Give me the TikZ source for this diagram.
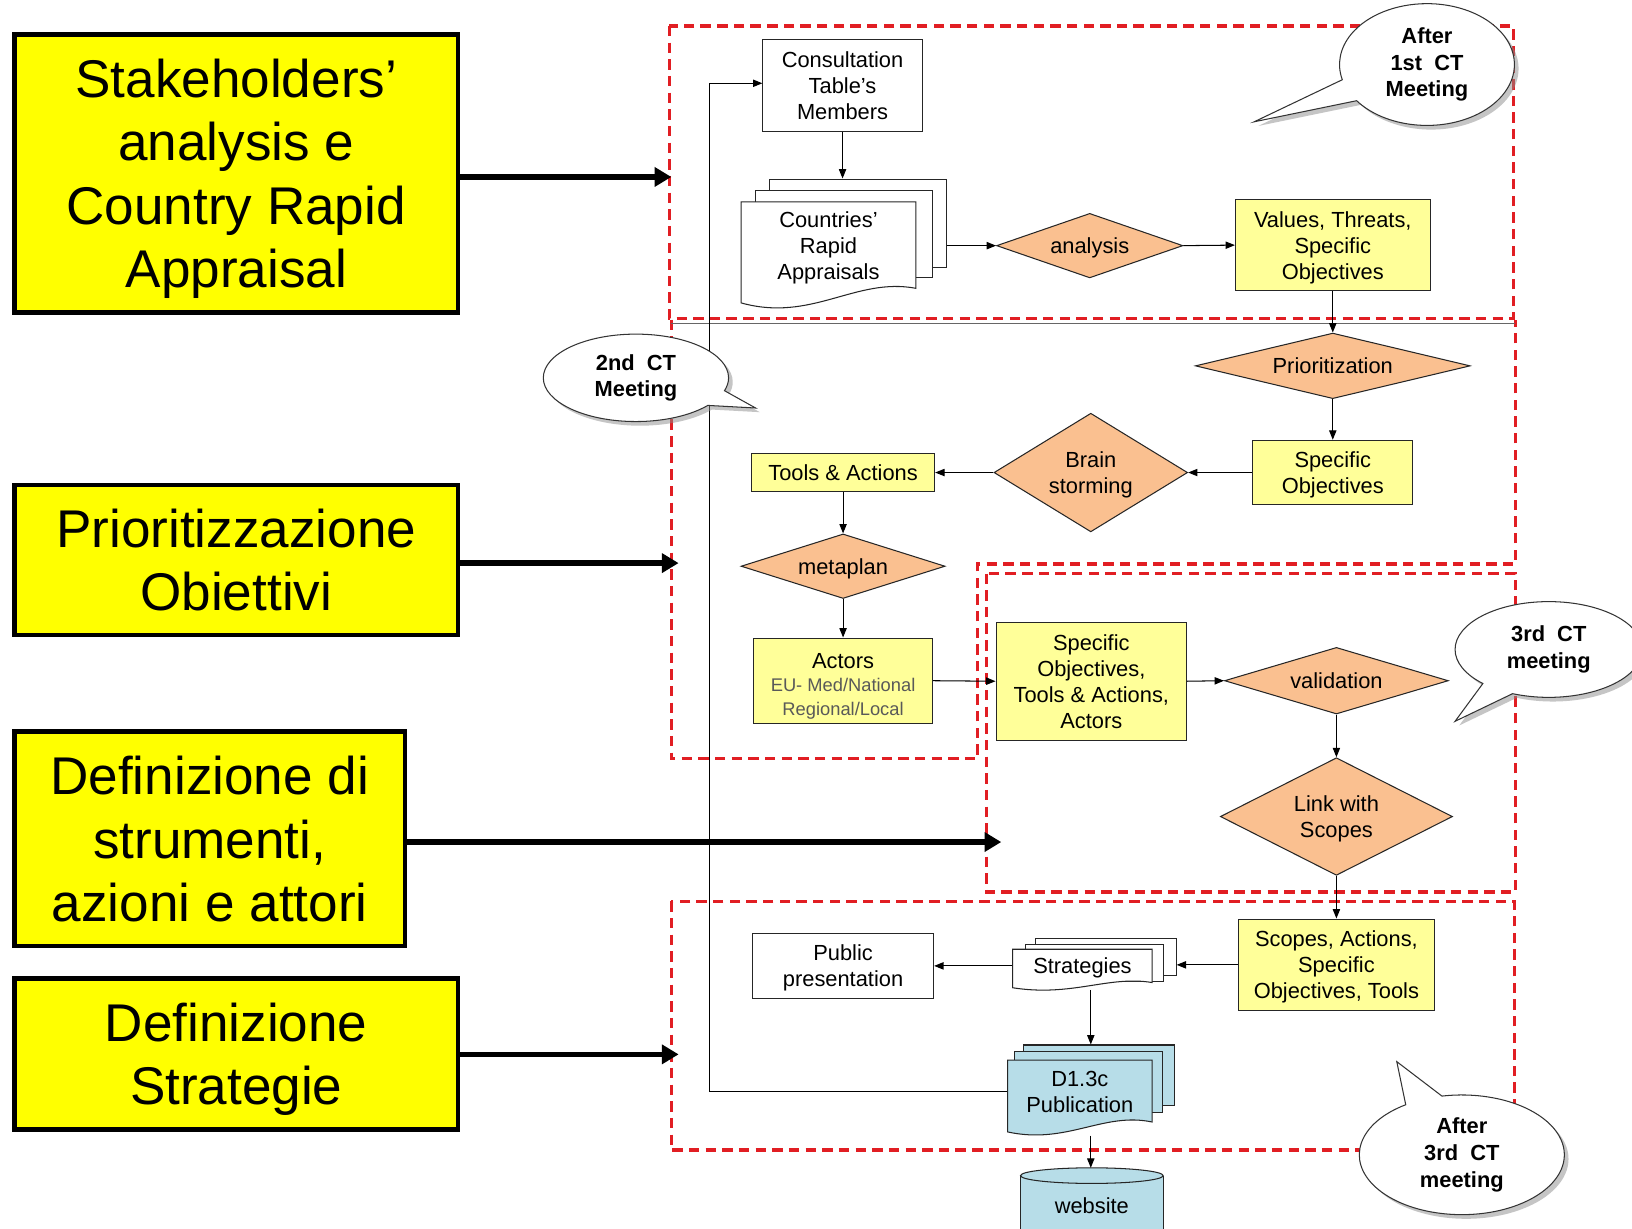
\documentclass[tikz,border=0pt]{standalone}
\usepackage{fontspec}
\setmainfont{Liberation Sans}
\usetikzlibrary{shapes.geometric,shapes.callouts,shadows,arrows.meta}
\definecolor{bigyellow}{RGB}{255,255,0}
\definecolor{nodeyellow}{RGB}{255,255,153}
\definecolor{peach}{RGB}{250,192,144}
\definecolor{docblue}{RGB}{183,221,232}
\definecolor{dashred}{RGB}{225,30,35}
\newcommand\smallgray[1]{{\fontsize{8.8}{11}\selectfont\color{black!65}#1}}
\begin{document}
\begin{tikzpicture}[x=0.5pt,y=-0.5pt,
  bigbox/.style={draw, line width=2.2pt, fill=bigyellow, align=center, inner sep=0pt, text depth=0pt, font=\fontsize{25.5}{30.5}\selectfont},
  bigarrow/.style={line width=2.6pt, -{Triangle[length=8pt,width=9pt]}},
  redbox/.style={draw=dashred, line width=1.6pt, dash pattern=on 5pt off 3pt},
  flow/.style={draw=black!85, line width=0.5pt, align=center, inner sep=0pt, text depth=0pt, font=\fontsize{10.5}{12.5}\selectfont},
  plainbox/.style={flow, fill=white},
  ybox/.style={flow, fill=nodeyellow},
  dia/.style={flow, diamond, fill=peach},
  arr/.style={line width=0.5pt, -{Triangle[length=4.5pt,width=3.5pt]}},
  docpage/.style={draw=black!85, line width=0.5pt, inner sep=0pt},
  doctext/.style={align=center, inner sep=0pt, text depth=0pt, font=\fontsize{10.5}{12.5}\selectfont},
  bubble/.style={ellipse callout, draw=black!80, line width=0.5pt, fill=white, align=center, inner sep=0pt,
     callout pointer arc=22,
     font=\bfseries\fontsize{10.5}{12.8}\selectfont,
     drop shadow={shadow xshift=2pt, shadow yshift=-2pt, fill=black!45}},
]
\useasboundingbox (0,0) rectangle (1568,1180);
\fill[white] (0,0) rectangle (1568,1180);

% red dashed regions
\draw[redbox] (643,25) rectangle (1454,306);
\draw[redbox] (645,307) -- (645,729) -- (939,729) -- (939,542) -- (1456,542) -- (1456,307);
\draw[black!60, line width=0.6pt] (645,311) -- (1456,311);
\draw[redbox] (948,551) rectangle (1456,857);
\draw[redbox] (645,866) rectangle (1455,1105);

% big yellow boxes
\node[bigbox, minimum width=213pt, minimum height=133.5pt] (A) at (227,166.5) {Stakeholders’\\analysis e\\Country Rapid\\Appraisal};
\node[bigbox, minimum width=213pt, minimum height=72pt] (B) at (227,538) {Prioritizzazione\\Obiettivi};
\node[bigbox, minimum width=187.5pt, minimum height=103pt] (C) at (201.5,806) {Definizione di\\strumenti,\\azioni e attori};
\node[bigbox, minimum width=213pt, minimum height=72.5pt] (D) at (227,1012.5) {Definizione\\Strategie};

% flow nodes
\node[plainbox, minimum width=76.5pt, minimum height=44pt] (ctm) at (809.5,82) {Consultation\\Table’s\\Members};

\node[docpage, fill=white, minimum width=85pt, minimum height=42.5pt] (cra3) at (824,214.5) {};
\node[docpage, fill=white, minimum width=85pt, minimum height=42pt] (cra2) at (811,225) {};
\draw[draw=black!85, fill=white, line width=0.5pt] (712,194) -- (880,194) -- (880,277) .. controls (822,266) and (780,310) .. (712,291) -- cycle;
\node[doctext, minimum width=84pt, minimum height=41pt] (cra) at (796,236) {Countries’\\Rapid\\Appraisals};

\node[dia, aspect=2.89, minimum width=89.5pt, minimum height=31pt] (ana) at (1047,236) {analysis};
\node[ybox, minimum width=93.5pt, minimum height=43.5pt] (valobj) at (1280.5,235.5) {Values, Threats,\\Specific\\Objectives};
\node[dia, aspect=4.19, minimum width=132pt, minimum height=31.5pt] (prio) at (1280.5,351.5) {Prioritization};
\node[ybox, minimum width=77pt, minimum height=31pt] (so) at (1280.5,454) {Specific\\Objectives};
\node[dia, aspect=1.63, minimum width=93pt, minimum height=57pt] (brain) at (1048,454) {Brain\\storming};
\node[ybox, minimum width=88pt, minimum height=18.5pt] (tools) at (810,454) {Tools \& Actions};
\node[dia, aspect=3.16, minimum width=98pt, minimum height=31pt] (meta) at (810,544) {metaplan};
\node[ybox, minimum width=86pt, minimum height=41pt] (actors) at (810,654) {\rule{0pt}{10.6pt}Actors\\[-1.3pt]\smallgray{EU- Med/National}\\[-1.3pt]\smallgray{Regional/Local}};
\node[ybox, minimum width=91.5pt, minimum height=56.5pt] (sota) at (1048.5,654.5) {Specific\\Objectives,\\Tools \& Actions,\\Actors};
\node[dia, aspect=3.36, minimum width=107.5pt, minimum height=32pt] (valid) at (1284,654) {validation};
\node[dia, aspect=1.97, minimum width=111.5pt, minimum height=56.5pt] (link) at (1284,784.5) {Link with\\Scopes};
\node[ybox, minimum width=94pt, minimum height=44pt] (scopes) at (1284,927) {Scopes, Actions,\\Specific\\Objectives, Tools};
\node[plainbox, minimum width=87pt, minimum height=31pt] (pubp) at (810,928) {Public\\presentation};

% Strategies multi-document
\node[docpage, fill=white, minimum width=67.5pt, minimum height=17.5pt] (strat3) at (1062.5,919.5) {};
\node[docpage, fill=white, minimum width=66.5pt, minimum height=18pt] (strat2) at (1051.5,925) {};
\draw[draw=black!85, fill=white, line width=0.5pt] (973,912) -- (1107,912) -- (1107,944) .. controls (1065,937) and (1030,958) .. (973,949) -- cycle;
\node[doctext, minimum width=67pt, minimum height=32pt] (strat) at (1040,928) {Strategies};

% D1.3c multi-document
\node[docpage, fill=docblue, minimum width=72.5pt, minimum height=29pt] (pub3) at (1055.5,1033) {};
\node[docpage, fill=docblue, minimum width=71pt, minimum height=29.25pt] (pub2) at (1046,1039.75) {};
\draw[draw=black!85, fill=docblue, line width=0.5pt] (968,1018.5) -- (1107,1018.5) -- (1107,1078) .. controls (1060,1068) and (1025,1100) .. (968,1087.5) -- cycle;
\node[doctext, minimum width=69.5pt, minimum height=29pt] (pub) at (1037.5,1049) {D1.3c\\Publication};

% website cylinder
\fill[docblue] (980.5,1129.5) rectangle (1117.5,1200);
\draw[black!85, line width=0.5pt] (980.5,1129.5) -- (980.5,1200) (1117.5,1129.5) -- (1117.5,1200);
\draw[black!85, fill=docblue, line width=0.5pt] (1049,1129.5) ellipse [x radius=68.5, y radius=7.5];
\node[doctext] (web) at (1049,1158) {website};
\coordinate (webtop) at (1048,1122);

% connectors
\draw[arr] (ctm.south) -- (ctm.south |- cra3.north);
\draw[arr] (cra3.east |- ana.west) -- (ana.west);
\draw[arr] (ana.east) -- (valobj.west);
\draw[arr] (valobj.south) -- (prio.north);
\draw[arr] (prio.south) -- (so.north);
\draw[arr] (so.west) -- (brain.east);
\draw[arr] (brain.west) -- (tools.east);
\draw[arr] (tools.south) -- (meta.north);
\draw[arr] (meta.south) -- (actors.north);
\draw[arr] (actors.east) -- (sota.west);
\draw[arr] (sota.east) -- (valid.west);
\draw[arr] (valid.south) -- (link.north);
\draw[arr] (link.south) -- (scopes.north);
\draw[arr] (scopes.west) -- (scopes.west -| strat3.east);
\draw[arr] (strat.west) -- (pubp.east);
\coordinate (sdown) at (1048,951);
\draw[arr] (sdown) -- (sdown |- pub3.north);
\coordinate (pdown) at (1048,1091);
\draw[arr] (pdown) -- (webtop);
\coordinate (lp) at (682,80);
\draw[arr] (pub.west) -| (lp) -- (lp -| ctm.west);

% thick arrows
\coordinate (tA) at (645,170);
\coordinate (tB) at (652,541);
\coordinate (tC) at (962,809);
\coordinate (tD) at (652,1013);
\draw[bigarrow] (A.east |- tA) -- (tA);
\draw[bigarrow] (B.east |- tB) -- (tB);
\draw[bigarrow] (C.east |- tC) -- (tC);
\draw[bigarrow] (D.east |- tD) -- (tD);

% callouts
\node[bubble, minimum width=84pt, minimum height=58.5pt, callout absolute pointer={(1205,117)}] (b1) at (1371,62) {After\\1st\ \ CT\\Meeting};
\node[bubble, minimum width=89pt, minimum height=42pt, callout absolute pointer={(726,392)}] (b2) at (611,363) {2nd\ \ CT\\Meeting};
\node[bubble, minimum width=90pt, minimum height=46pt, callout absolute pointer={(1398,693)}] (b3) at (1488,624) {3rd\ \ CT\\meeting};
\node[bubble, minimum width=98.5pt, minimum height=57.5pt, callout absolute pointer={(1342,1020)}] (b4) at (1404.5,1109.5) {After\\3rd\ \ CT\\meeting};
\end{tikzpicture}
\end{document}
